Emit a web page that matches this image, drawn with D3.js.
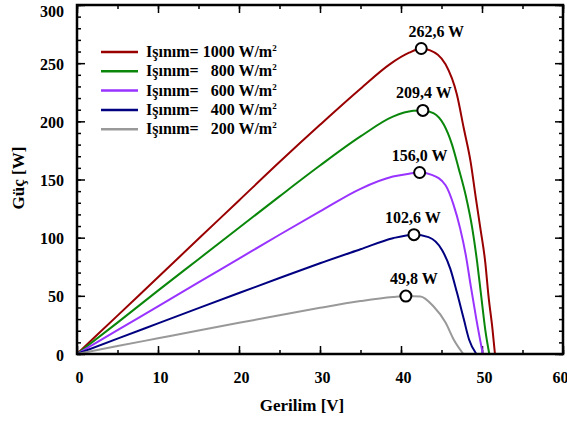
<!DOCTYPE html>
<html>
<head>
  <meta charset="UTF-8"/>
  <title>Güç - Gerilim</title>
  <script src="https://d3js.org/d3.v7.min.js"></script>
  <style>
    body { margin: 0; background: #fff; }
    svg text { font-family: 'Liberation Serif', 'Times New Roman', serif; font-weight: bold; fill: #000; }
    .tick-lbl { font-size: 16px; }
    .title { font-size: 17px; }
    .legend text { font-size: 16px; }
    .peak { font-size: 16px; }
  </style>
</head>
<body>
<svg width="567" height="421"></svg>
<script>
// series names (irradiance, W/m2)
var series = ["1000", "800", "600", "400", "200"];
var colors = ["#990000", "#0a870a", "#9933ff", "#000080", "#999999"];

// voltage (V) and power (W)
var v1000 = [0, 5, 10, 15, 20, 25, 30, 35, 38.6, 41, 42.5, 43.6, 45.5, 46.9, 47.75, 48.6, 49.2, 49.8, 50.4, 50.8, 51.3, 51.6];
var p1000 = [0, 33, 66, 99, 132, 165, 197, 228, 249, 259, 262.6, 261, 249, 223, 194, 165, 136, 108, 79, 50, 21, 0];
var v800 = [0, 5, 10, 15, 20, 25, 30, 35, 39, 41.5, 42.7, 44, 45.3, 46.3, 47.1, 48, 48.8, 49.4, 49.9, 50.4, 50.9];
var p800 = [0, 27, 54.5, 81.5, 108.5, 135.5, 162, 187, 204, 209, 209.4, 207, 197, 180, 160, 136, 108, 79, 50, 21, 0];
var v600 = [0, 5, 10, 15, 20, 25, 30, 35, 39, 41, 42.3, 43.8, 45.5, 46.5, 47.3, 48, 48.6, 49.3, 50.1];
var p600 = [0, 20.5, 41, 61.5, 82, 102.5, 122.5, 142, 152.5, 155, 156, 154, 145, 128, 108, 85, 59, 30, 0];
var v400 = [0, 5, 10, 15, 20, 25, 30, 35, 39, 41.6, 43.4, 45.1, 46.1, 46.9, 47.75, 48.4, 49.3];
var p400 = [0, 13.2, 26.3, 39.4, 52.4, 65.3, 78, 90, 99.5, 102.6, 100.5, 89, 73, 53, 30, 12.5, 0];
var v200 = [0, 5, 10, 15, 20, 25, 30, 35, 39, 40.6, 42.4, 44, 45.5, 46.5, 47.7];
var p200 = [0, 6.8, 13.5, 20.2, 26.8, 33.3, 39.7, 45.5, 49, 49.8, 49.5, 41, 27, 12.5, 0];

// maximum power points
var peakV = [42.5, 42.7, 42.3, 41.6, 40.6];
var peakP = [262.6, 209.4, 156.0, 102.6, 49.8];
var peakText = ["262,6 W", "209,4 W", "156,0 W", "102,6 W", "49,8 W"];

var xTicks = [0, 10, 20, 30, 40, 50, 60];
var yTicks = [0, 50, 100, 150, 200, 250, 300];

var volts = [v1000, v800, v600, v400, v200];
var powers = [p1000, p800, p600, p400, p200];

var svg = d3.select("svg"),
    margin = {top: 5, right: 4, bottom: 67, left: 77},
    width = +svg.attr("width") - margin.left - margin.right,
    height = +svg.attr("height") - margin.top - margin.bottom;

var x = d3.scaleLinear().domain([0, 60]).range([0, width]),
    y = d3.scaleLinear().domain([0, 300]).range([height, 0]);

var g = svg.append("g")
    .attr("transform", "translate(" + margin.left + "," + margin.top + ")");

// minor + major ticks, all pointing inward
function ticks(axis, scale, vals, len) {
  return axis(scale).tickValues(vals).tickSizeInner(-len).tickSizeOuter(0).tickFormat("");
}
var minorX = d3.range(0, 61, 5), minorY = d3.range(0, 301, 10);

g.append("g").attr("transform", "translate(0," + height + ")").call(ticks(d3.axisBottom, x, minorX, 4));
g.append("g").attr("transform", "translate(0," + height + ")").call(ticks(d3.axisBottom, x, xTicks, 8));
g.append("g").call(ticks(d3.axisTop, x, minorX, 4));
g.append("g").call(ticks(d3.axisTop, x, xTicks, 8));
g.append("g").call(ticks(d3.axisLeft, y, minorY, 4));
g.append("g").call(ticks(d3.axisLeft, y, yTicks, 8));
g.append("g").attr("transform", "translate(" + width + ",0)").call(ticks(d3.axisRight, y, minorY, 4));
g.append("g").attr("transform", "translate(" + width + ",0)").call(ticks(d3.axisRight, y, yTicks, 8));
g.selectAll(".domain").remove();
g.selectAll(".tick line").attr("stroke", "#000").attr("stroke-width", 1.5);

// tick labels
g.append("g").call(d3.axisBottom(x).tickValues(xTicks).tickSize(0).tickPadding(0))
  .attr("transform", "translate(2," + (height + 29) + ")")
  .call(function(a) { a.select(".domain").remove(); })
  .selectAll("text").attr("class", "tick-lbl").attr("dy", 0)
  .filter(function(d) { return d === 60; })
  .attr("text-anchor", "end").attr("dx", 3);
g.append("g").call(d3.axisLeft(y).tickValues(yTicks).tickSize(0).tickPadding(13))
  .call(function(a) { a.select(".domain").remove(); })
  .selectAll("text").attr("class", "tick-lbl")
  .attr("dy", function(d) { return d === 300 ? "0.7em" : "0.38em"; });
svg.selectAll("g").attr("font-size", null).attr("font-family", null);

// curves
var line = d3.line()
  .x(function(d) { return x(d[0]); })
  .y(function(d) { return y(d[1]); })
  .curve(d3.curveMonotoneX);

series.forEach(function(s, i) {
  var pts = volts[i].map(function(v, j) { return [v, powers[i][j]]; });
  g.append("path")
    .datum(pts)
    .attr("fill", "none")
    .attr("stroke", colors[i])
    .attr("stroke-width", 2)
    .attr("d", line);
});

// frame
g.append("rect").attr("width", width).attr("height", height)
  .attr("fill", "none").attr("stroke", "#000").attr("stroke-width", 2.5);

// peak markers and labels
var nudge = [15, 1, 0, -1, 8];
series.forEach(function(s, i) {
  g.append("circle")
    .attr("cx", x(peakV[i])).attr("cy", y(peakP[i])).attr("r", 5.5)
    .attr("fill", "#fff").attr("stroke", "#000").attr("stroke-width", 2);
  g.append("text")
    .attr("class", "peak")
    .attr("x", x(peakV[i]) + nudge[i]).attr("y", y(peakP[i]) - 12)
    .attr("text-anchor", "middle")
    .text(peakText[i]);
});

// legend
var leg = svg.append("g").attr("class", "legend").attr("transform", "translate(101,52)");
series.forEach(function(s, i) {
  var row = leg.append("g").attr("transform", "translate(0," + (i * 19.3) + ")");
  row.append("line").attr("x1", 0).attr("x2", 37)
    .attr("stroke", colors[i]).attr("stroke-width", 2.5);
  var t = row.append("text").attr("x", 45).attr("y", 5);
  t.append("tspan").text("Işınım= " + (s.length < 4 ? "\u2007" : "") + s + " W/m");
  t.append("tspan").attr("dy", -6).attr("font-size", 9).text("2");
});

// axis titles
svg.append("text").attr("class", "title")
  .attr("text-anchor", "middle")
  .attr("transform", "translate(24,178) rotate(-90)")
  .text("Güç [W]");
svg.append("text").attr("class", "title")
  .attr("text-anchor", "middle")
  .attr("x", 302).attr("y", 411)
  .text("Gerilim [V]");
</script>
</body>
</html>
